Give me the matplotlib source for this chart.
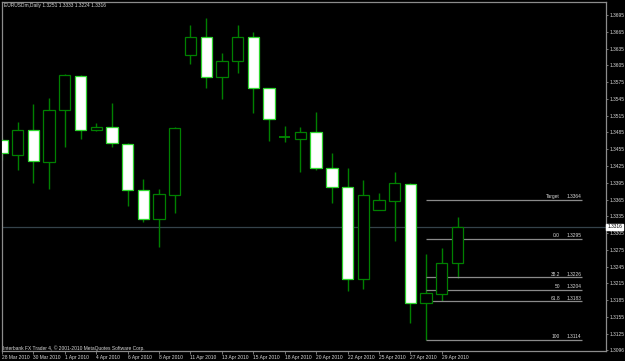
import matplotlib
matplotlib.use('Agg')
import matplotlib.pyplot as plt
from matplotlib.patches import Rectangle
from matplotlib.transforms import blended_transform_factory

# daily EURUSD candles, 28 Mar - 30 Apr 2010
DATES = ['28 Mar', '29 Mar', '30 Mar', '31 Mar', '1 Apr', '2 Apr', '4 Apr', '5 Apr',
         '6 Apr', '7 Apr', '8 Apr', '9 Apr', '11 Apr', '12 Apr', '13 Apr', '14 Apr',
         '15 Apr', '16 Apr', '18 Apr', '19 Apr', '20 Apr', '21 Apr', '22 Apr', '23 Apr',
         '25 Apr', '26 Apr', '27 Apr', '28 Apr', '29 Apr', '30 Apr']
OPEN = [1.3472, 1.3445, 1.3489, 1.3432, 1.3525, 1.3586, 1.3489, 1.3495,
        1.3464, 1.3382, 1.3330, 1.3373, 1.3624, 1.3656, 1.3584, 1.3613,
        1.3656, 1.3565, 1.3477, 1.3473, 1.3486, 1.3421, 1.3388, 1.3223,
        1.3346, 1.3362, 1.3393, 1.3180, 1.3196, 1.3251]
HIGH = [1.3475, 1.3504, 1.3536, 1.3547, 1.3590, 1.3588, 1.3502, 1.3538,
        1.3466, 1.3402, 1.3384, 1.3495, 1.3677, 1.3690, 1.3627, 1.3677,
        1.3665, 1.3565, 1.3497, 1.3495, 1.3522, 1.3448, 1.3421, 1.3400,
        1.3377, 1.3414, 1.3395, 1.3268, 1.3278, 1.3333]
LOW = [1.3436, 1.3418, 1.3395, 1.3384, 1.3459, 1.3473, 1.3488, 1.3459,
       1.3354, 1.3325, 1.3280, 1.3341, 1.3607, 1.3565, 1.3545, 1.3591,
       1.3520, 1.3470, 1.3468, 1.3414, 1.3418, 1.3359, 1.3202, 1.3205,
       1.3346, 1.3291, 1.3144, 1.3114, 1.3184, 1.3224]
CLOSE = [1.3448, 1.3489, 1.3434, 1.3525, 1.3588, 1.3489, 1.3495, 1.3466,
         1.3382, 1.3330, 1.3375, 1.3493, 1.3656, 1.3584, 1.3613, 1.3656,
         1.3565, 1.3509, 1.3477, 1.3486, 1.3421, 1.3388, 1.3223, 1.3373,
         1.3364, 1.3395, 1.3180, 1.3198, 1.3251, 1.3316]

PRICE_TICKS = [1.3695, 1.3665, 1.3635, 1.3605, 1.3575, 1.3545, 1.3515, 1.3485,
               1.3455, 1.3425, 1.3395, 1.3365, 1.3335, 1.3305, 1.3275, 1.3245,
               1.3215, 1.3185, 1.3155, 1.3125, 1.3096]
LAST_PRICE = 1.3316

FIB_NAMES = ['Target', '0.0', '38.2', '50', '61.8', '100']
FIB_LEVELS = [1.3364, 1.3295, 1.3226, 1.3204, 1.3183, 1.3114]
FIB_START = 27

BG = '#000000'
FRAME = '#8c8c8c'
WICK = '#008000'
BULL_EDGE = '#008000'
BEAR_EDGE = '#2ed62e'
TXT = '#d8d8d8'
FONT = 'Liberation Sans'
FS = 3.5


def draw_candles(ax, width=0.72):
    for i in range(len(OPEN)):
        o, h, l, c = OPEN[i], HIGH[i], LOW[i], CLOSE[i]
        ax.vlines(i, l, h, color=WICK, lw=1.0, zorder=2)
        bull = c >= o
        lo, hi = min(o, c), max(o, c)
        if hi - lo < 0.00005:
            ax.hlines(lo, i - width / 2, i + width / 2, color=BULL_EDGE, lw=1.4, zorder=3)
            continue
        ax.add_patch(Rectangle((i - width / 2, lo), width, hi - lo,
                               facecolor=BG if bull else 'white',
                               edgecolor=BULL_EDGE if bull else BEAR_EDGE,
                               lw=0.9, zorder=3))


def main():
    fig = plt.figure(figsize=(6.25, 3.61), dpi=100, facecolor=BG)
    ax = fig.add_axes([2 / 625, 10 / 361, 604 / 625, 349 / 361], facecolor=BG)

    # pixel -> data: candle i centred at 1.5 + 15.72*i px
    ax.set_xlim((2 - 1.5) / 15.72, (606 - 1.5) / 15.72)
    ax.set_ylim(1.30942, 1.37182)

    for s in ax.spines.values():
        s.set_color(FRAME)
        s.set_linewidth(0.9)

    # current price line
    ax.axhline(LAST_PRICE, color='#34424a', lw=0.9, zorder=1)

    draw_candles(ax)

    # fibonacci levels
    x_end = (581.7 - 1.5) / 15.72
    x_name = (560 - 1.5) / 15.72
    for name, lvl in zip(FIB_NAMES, FIB_LEVELS):
        ax.hlines(lvl, FIB_START, x_end, color='#8a8a8a', lw=0.9, zorder=2)
        ax.text(x_name, lvl + 0.00012, name, color=TXT, fontsize=FS, family=FONT,
                ha='right', va='bottom')
        ax.text(x_end, lvl + 0.00012, '%.4f' % lvl, color=TXT, fontsize=FS, family=FONT,
                ha='right', va='bottom')

    # price axis on the right
    ax.yaxis.tick_right()
    ax.set_yticks(PRICE_TICKS)
    ax.set_yticklabels(['%.4f' % p for p in PRICE_TICKS])
    ax.tick_params(axis='y', colors=FRAME, labelcolor=TXT, labelsize=FS,
                   length=1.6, width=0.6, pad=1.2)

    # date axis
    idx = list(range(0, len(DATES), 2))
    ax.set_xticks(idx)
    ax.set_xticklabels([DATES[i] + ' 2010' for i in idx])
    ax.tick_params(axis='x', colors=FRAME, labelcolor=TXT, labelsize=FS,
                   length=2.2, width=0.6, pad=0.6)
    for t in ax.get_xticklabels() + ax.get_yticklabels():
        t.set_family(FONT)
    for t in ax.get_xticklabels():
        t.set_ha('left')

    # last price box on the axis
    tr = blended_transform_factory(ax.transAxes, ax.transData)
    ax.text(1.002, LAST_PRICE, '%.4f' % LAST_PRICE, transform=tr, color='black',
            fontsize=FS, family=FONT, ha='left', va='center', zorder=5,
            bbox=dict(boxstyle='square,pad=0.15', facecolor='white', edgecolor='white'))

    fig.text(4 / 625, 1 - 5.5 / 361,
             'EURUSDm,Daily %.4f %.4f %.4f %.4f' % (OPEN[-1], HIGH[-1], LOW[-1], CLOSE[-1]),
             color=TXT, fontsize=FS, family=FONT, ha='left', va='center')
    fig.text(3 / 625, 1 - 348 / 361,
             'Interbank FX Trader 4, \u00a9 2001-2010 MetaQuotes Software Corp.',
             color=TXT, fontsize=FS, family=FONT, ha='left', va='center')

    fig.savefig('out.png', dpi=100, facecolor=BG)


if __name__ == '__main__':
    main()
